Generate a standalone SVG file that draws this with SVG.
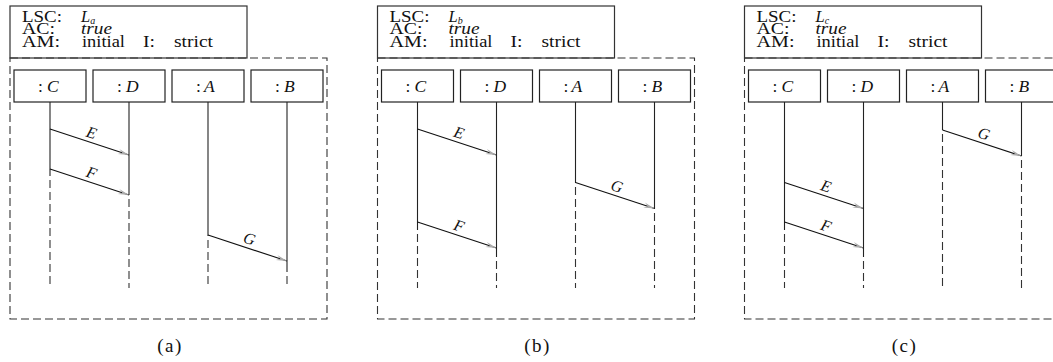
<svg xmlns="http://www.w3.org/2000/svg" width="1053" height="362" viewBox="0 0 1053 362" font-family="'Liberation Serif', 'Times New Roman', 'DejaVu Serif', serif">
<style>
  text { font-family: 'Liberation Serif', 'Times New Roman', 'DejaVu Serif', serif; fill: #111; }
  .hd { font-size: 16.5px; }
  .it { font-style: italic; }
  .lbl { font-size: 17.5px; }
  .msgl { font-size: 16px; font-style: italic; text-anchor: middle; }
  .cap { font-size: 19px; text-anchor: middle; letter-spacing: 1.5px; }
  .sub { font-size: 10px; }
  .box { fill: #fff; stroke: #222; stroke-width: 1.2; }
  .frame { fill: none; stroke: #333; stroke-width: 1.1; stroke-dasharray: 8 4; }
  .life { stroke: #222; stroke-width: 1.1; }
  .lifed { stroke: #333; stroke-width: 1.1; stroke-dasharray: 8 4; }
  .msg { stroke: #111; stroke-width: 1.1; fill: none; marker-end: url(#ah); }
</style>
<defs>
  <marker id="ah" viewBox="-12 -4 14 8" refX="0" refY="0" markerWidth="14" markerHeight="8" markerUnits="userSpaceOnUse" orient="auto">
    <path d="M0,0 L-11,-2.6 L-7,0 L-11,2.6 Z" fill="#aaa" stroke="none"/>
  </marker>
</defs>

<!-- Panel (a) -->
<g id="panel-a">
  <g id="a-header">
    <rect x="10" y="6" width="237" height="52" fill="#fff" stroke="#333" stroke-width="1.2"/>
    <text class="hd" x="22" y="21.5" textLength="40" lengthAdjust="spacingAndGlyphs">LSC:</text>
    <text class="hd it" x="81" y="21.5">L<tspan class="sub" dy="2">a</tspan></text>
    <text class="hd" x="22" y="34" textLength="33" lengthAdjust="spacingAndGlyphs">AC:</text>
    <text class="hd it" x="81" y="34" textLength="31" lengthAdjust="spacingAndGlyphs">true</text>
    <text class="hd" x="22" y="46.5" textLength="38" lengthAdjust="spacingAndGlyphs">AM:</text>
    <text class="hd" x="82" y="46.5" textLength="43" lengthAdjust="spacingAndGlyphs">initial</text>
    <text class="hd" x="143" y="46.5" textLength="12" lengthAdjust="spacingAndGlyphs">I:</text>
    <text class="hd" x="174" y="46.5" textLength="39" lengthAdjust="spacingAndGlyphs">strict</text>
  </g>
  <rect class="frame" x="10" y="58" width="317" height="261"/>
  <g id="a-C">
    <rect class="box" x="14" y="70" width="72" height="32"/>
    <text class="lbl" x="38" y="92">:</text><text class="lbl it" x="47" y="92">C</text>
    <line class="life" x1="50" y1="102" x2="50" y2="176"/>
    <line class="lifed" x1="50" y1="180" x2="50" y2="288"/>
  </g>
  <g id="a-D">
    <rect class="box" x="93" y="70" width="72" height="32"/>
    <text class="lbl" x="117" y="92">:</text><text class="lbl it" x="126" y="92">D</text>
    <line class="life" x1="129" y1="102" x2="129" y2="195"/>
    <line class="lifed" x1="129" y1="199" x2="129" y2="288"/>
  </g>
  <g id="a-A">
    <rect class="box" x="172" y="70" width="72" height="32"/>
    <text class="lbl" x="196" y="92">:</text><text class="lbl it" x="204" y="92">A</text>
    <line class="life" x1="208" y1="102" x2="208" y2="236"/>
    <line class="lifed" x1="208" y1="240" x2="208" y2="288"/>
  </g>
  <g id="a-B">
    <rect class="box" x="251" y="70" width="72" height="32"/>
    <text class="lbl" x="275" y="92">:</text><text class="lbl it" x="284" y="92">B</text>
    <line class="life" x1="287" y1="102" x2="287" y2="272"/>
    <line class="lifed" x1="287" y1="276" x2="287" y2="288"/>
  </g>
  <g id="a-connectors">
    <line class="msg" x1="50" y1="129" x2="129" y2="155"/>
    <text class="msgl" transform="translate(89.5,142) rotate(18.2)" x="-1" y="-4">E</text>
    <line class="msg" x1="50" y1="169" x2="129" y2="195"/>
    <text class="msgl" transform="translate(89.5,182) rotate(18.2)" x="-1" y="-4">F</text>
    <line class="msg" x1="208" y1="235" x2="287" y2="261"/>
    <text class="msgl" transform="translate(247.5,248) rotate(18.2)" x="-1" y="-4">G</text>
  </g>
  <text class="cap" x="170" y="352">(a)</text>
</g>

<!-- Panel (b) -->
<g id="panel-b" transform="translate(367.5,0)">
  <g id="b-header">
    <rect x="10" y="6" width="237" height="52" fill="#fff" stroke="#333" stroke-width="1.2"/>
    <text class="hd" x="22" y="21.5" textLength="40" lengthAdjust="spacingAndGlyphs">LSC:</text>
    <text class="hd it" x="81" y="21.5">L<tspan class="sub" dy="2">b</tspan></text>
    <text class="hd" x="22" y="34" textLength="33" lengthAdjust="spacingAndGlyphs">AC:</text>
    <text class="hd it" x="81" y="34" textLength="31" lengthAdjust="spacingAndGlyphs">true</text>
    <text class="hd" x="22" y="46.5" textLength="38" lengthAdjust="spacingAndGlyphs">AM:</text>
    <text class="hd" x="82" y="46.5" textLength="43" lengthAdjust="spacingAndGlyphs">initial</text>
    <text class="hd" x="143" y="46.5" textLength="12" lengthAdjust="spacingAndGlyphs">I:</text>
    <text class="hd" x="174" y="46.5" textLength="39" lengthAdjust="spacingAndGlyphs">strict</text>
  </g>
  <rect class="frame" x="10" y="58" width="317" height="261"/>
  <g id="b-C">
    <rect class="box" x="14" y="70" width="72" height="32"/>
    <text class="lbl" x="38" y="92">:</text><text class="lbl it" x="47" y="92">C</text>
    <line class="life" x1="50" y1="102" x2="50" y2="230"/>
    <line class="lifed" x1="50" y1="234" x2="50" y2="288"/>
  </g>
  <g id="b-D">
    <rect class="box" x="93" y="70" width="72" height="32"/>
    <text class="lbl" x="117" y="92">:</text><text class="lbl it" x="126" y="92">D</text>
    <line class="life" x1="129" y1="102" x2="129" y2="257"/>
    <line class="lifed" x1="129" y1="261" x2="129" y2="288"/>
  </g>
  <g id="b-A">
    <rect class="box" x="172" y="70" width="72" height="32"/>
    <text class="lbl" x="196" y="92">:</text><text class="lbl it" x="204" y="92">A</text>
    <line class="life" x1="208" y1="102" x2="208" y2="183"/>
    <line class="lifed" x1="208" y1="187" x2="208" y2="288"/>
  </g>
  <g id="b-B">
    <rect class="box" x="251" y="70" width="72" height="32"/>
    <text class="lbl" x="275" y="92">:</text><text class="lbl it" x="284" y="92">B</text>
    <line class="life" x1="287" y1="102" x2="287" y2="209"/>
    <line class="lifed" x1="287" y1="213" x2="287" y2="288"/>
  </g>
  <g id="b-connectors">
    <line class="msg" x1="50" y1="129" x2="129" y2="155"/>
    <text class="msgl" transform="translate(89.5,142) rotate(18.2)" x="-1" y="-4">E</text>
    <line class="msg" x1="208" y1="182.5" x2="287" y2="208.5"/>
    <text class="msgl" transform="translate(247.5,195.5) rotate(18.2)" x="-1" y="-4">G</text>
    <line class="msg" x1="50" y1="222" x2="129" y2="248"/>
    <text class="msgl" transform="translate(89.5,235) rotate(18.2)" x="-1" y="-4">F</text>
  </g>
  <text class="cap" x="170" y="352">(b)</text>
</g>

<!-- Panel (c) -->
<g id="panel-c" transform="translate(734.5,0)">
  <g id="c-header">
    <rect x="10" y="6" width="237" height="52" fill="#fff" stroke="#333" stroke-width="1.2"/>
    <text class="hd" x="22" y="21.5" textLength="40" lengthAdjust="spacingAndGlyphs">LSC:</text>
    <text class="hd it" x="81" y="21.5">L<tspan class="sub" dy="2">c</tspan></text>
    <text class="hd" x="22" y="34" textLength="33" lengthAdjust="spacingAndGlyphs">AC:</text>
    <text class="hd it" x="81" y="34" textLength="31" lengthAdjust="spacingAndGlyphs">true</text>
    <text class="hd" x="22" y="46.5" textLength="38" lengthAdjust="spacingAndGlyphs">AM:</text>
    <text class="hd" x="82" y="46.5" textLength="43" lengthAdjust="spacingAndGlyphs">initial</text>
    <text class="hd" x="143" y="46.5" textLength="12" lengthAdjust="spacingAndGlyphs">I:</text>
    <text class="hd" x="174" y="46.5" textLength="39" lengthAdjust="spacingAndGlyphs">strict</text>
  </g>
  <rect class="frame" x="10" y="58" width="317" height="261"/>
  <g id="c-C">
    <rect class="box" x="14" y="70" width="72" height="32"/>
    <text class="lbl" x="38" y="92">:</text><text class="lbl it" x="47" y="92">C</text>
    <line class="life" x1="50" y1="102" x2="50" y2="230"/>
    <line class="lifed" x1="50" y1="234" x2="50" y2="288"/>
  </g>
  <g id="c-D">
    <rect class="box" x="93" y="70" width="72" height="32"/>
    <text class="lbl" x="117" y="92">:</text><text class="lbl it" x="126" y="92">D</text>
    <line class="life" x1="129" y1="102" x2="129" y2="257"/>
    <line class="lifed" x1="129" y1="261" x2="129" y2="288"/>
  </g>
  <g id="c-A">
    <rect class="box" x="172" y="70" width="72" height="32"/>
    <text class="lbl" x="196" y="92">:</text><text class="lbl it" x="204" y="92">A</text>
    <line class="life" x1="208" y1="102" x2="208" y2="130"/>
    <line class="lifed" x1="208" y1="134" x2="208" y2="288"/>
  </g>
  <g id="c-B">
    <rect class="box" x="251" y="70" width="72" height="32"/>
    <text class="lbl" x="275" y="92">:</text><text class="lbl it" x="284" y="92">B</text>
    <line class="life" x1="287" y1="102" x2="287" y2="156"/>
    <line class="lifed" x1="287" y1="160" x2="287" y2="288"/>
  </g>
  <g id="c-connectors">
    <line class="msg" x1="208" y1="130" x2="287" y2="156"/>
    <text class="msgl" transform="translate(247.5,143) rotate(18.2)" x="-1" y="-4">G</text>
    <line class="msg" x1="50" y1="182.5" x2="129" y2="208.5"/>
    <text class="msgl" transform="translate(89.5,195.5) rotate(18.2)" x="-1" y="-4">E</text>
    <line class="msg" x1="50" y1="222" x2="129" y2="248"/>
    <text class="msgl" transform="translate(89.5,235) rotate(18.2)" x="-1" y="-4">F</text>
  </g>
  <text class="cap" x="170" y="352">(c)</text>
</g>
</svg>
